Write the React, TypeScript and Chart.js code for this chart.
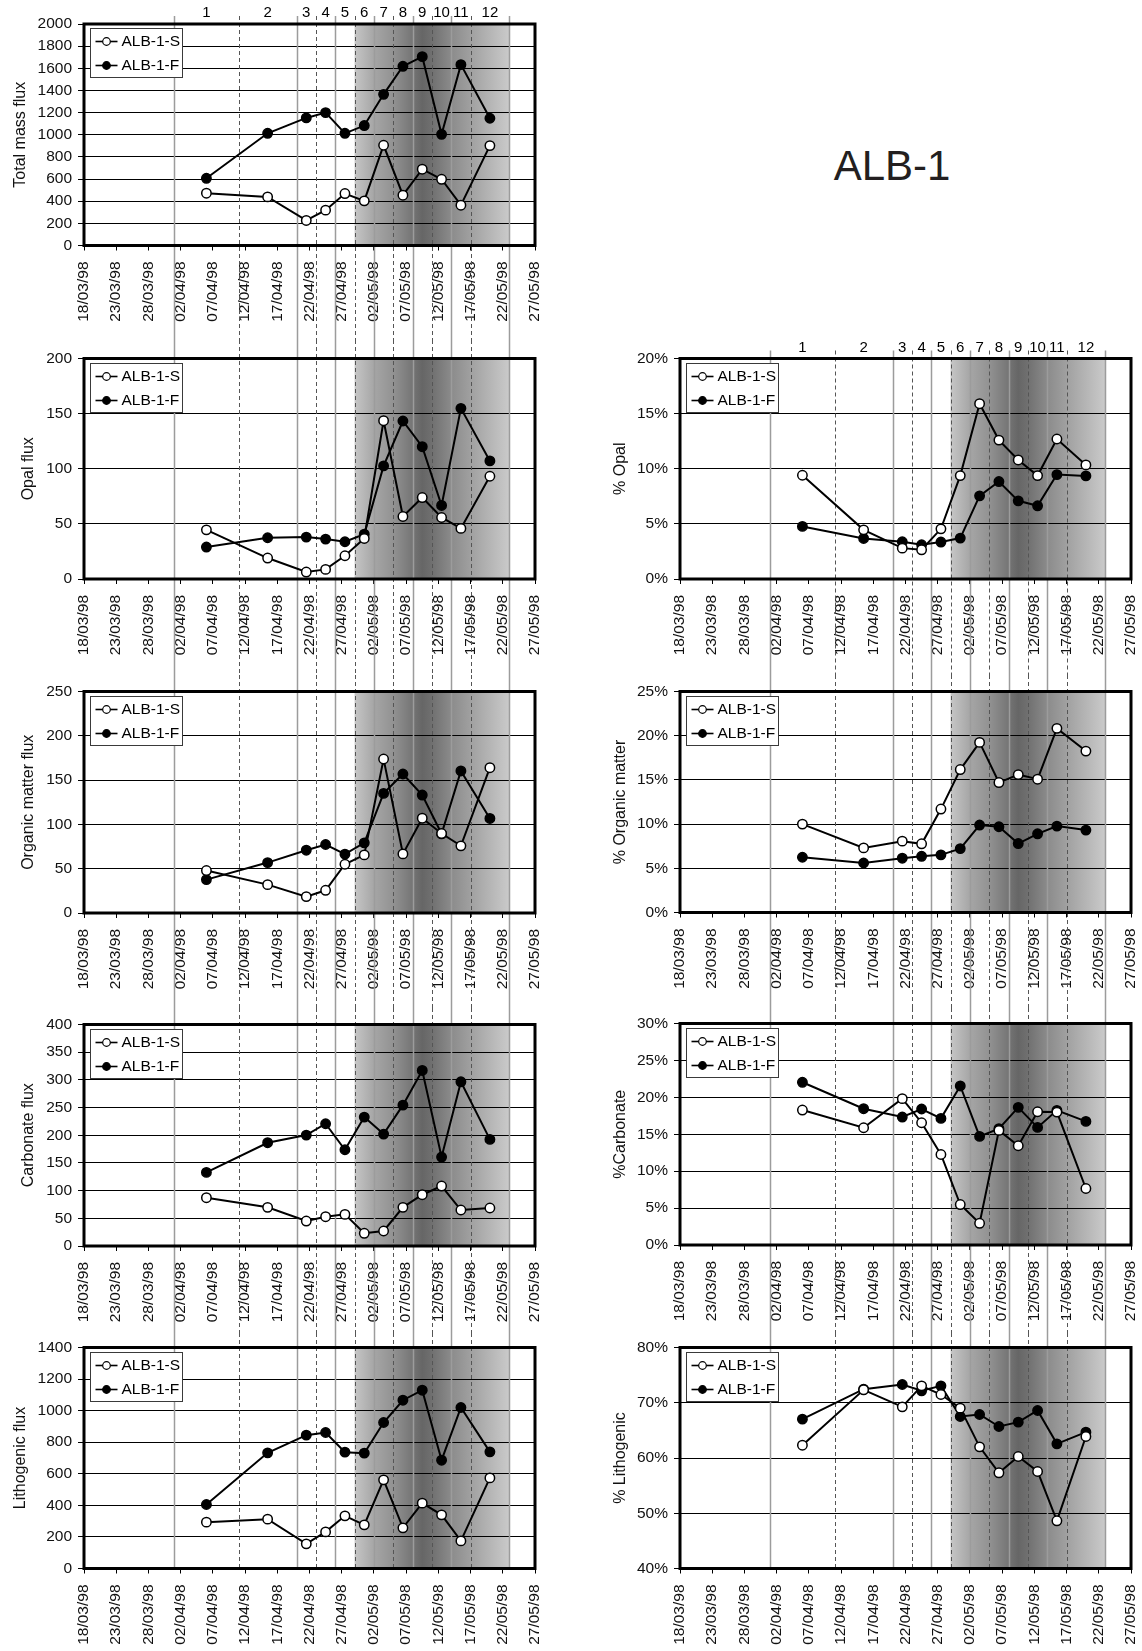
import React, { useEffect, useRef } from 'react';
import { Chart, registerables } from 'chart.js';

Chart.register(...registerables);

const FONT = '"Liberation Sans", Arial, Helvetica, sans-serif';
Chart.defaults.font.family = FONT;

// ---------- data ----------
const SERIES_NAMES = ['ALB-1-S', 'ALB-1-F'];
const CUP_NUMBERS = ['1', '2', '3', '4', '5', '6', '7', '8', '9', '10', '11', '12'];
// cup opening/closing limits, in days after 18/03/98
const CUP_BOUNDARY_DAYS = [14, 24, 33, 36, 39, 42, 45, 48, 51, 54, 57, 60, 66];
const CUP_BOUNDARY_DASHED = [false, true, false, true, false, true, false, true, false, true, false, true, false];
// sample mid-dates, in days after 18/03/98
const CUP_MID_DAYS = [19, 28.5, 34.5, 37.5, 40.5, 43.5, 46.5, 49.5, 52.5, 55.5, 58.5, 63];
const DATE_TICK_LABELS = [
  '18/03/98', '23/03/98', '28/03/98', '02/04/98', '07/04/98', '12/04/98', '17/04/98', '22/04/98',
  '27/04/98', '02/05/98', '07/05/98', '12/05/98', '17/05/98', '22/05/98', '27/05/98',
];
const BLOOM_START_DAY = 42;
const BLOOM_END_DAY = 66;

const TOTAL_MASS_S = [472, 439, 226, 319, 469, 403, 905, 454, 689, 598, 364, 902];
const TOTAL_MASS_F = [607, 1013, 1152, 1200, 1013, 1083, 1365, 1618, 1705, 1004, 1633, 1149];
const OPAL_FLUX_S = [44.6, 19, 6.3, 8.7, 21.1, 36.8, 143.6, 56.7, 73.9, 55.8, 45.9, 93.2];
const OPAL_FLUX_F = [29, 37.4, 38, 36.2, 33.8, 40.7, 102.6, 143.3, 120, 66.7, 154.8, 107.1];
const OPAL_PCT_S = [9.41, 4.46, 2.8, 2.65, 4.55, 9.38, 15.9, 12.6, 10.8, 9.38, 12.7, 10.35];
const OPAL_PCT_F = [4.77, 3.68, 3.38, 3.1, 3.35, 3.71, 7.54, 8.84, 7.09, 6.64, 9.47, 9.35];
const ORGANIC_FLUX_S = [47.9, 32, 18.5, 25.6, 55, 65.6, 173.8, 66.7, 107, 89.7, 75.8, 164];
const ORGANIC_FLUX_F = [37.7, 56.9, 70.9, 77.3, 66.4, 79.2, 135, 156.9, 133.1, 89.4, 160.3, 106.7];
const ORGANIC_PCT_S = [10.0, 7.31, 8.07, 7.77, 11.7, 16.17, 19.24, 14.7, 15.6, 15.08, 20.83, 18.26];
const ORGANIC_PCT_F = [6.25, 5.6, 6.14, 6.36, 6.52, 7.23, 9.89, 9.7, 7.8, 8.9, 9.77, 9.32];
const CARBONATE_FLUX_S = [87.2, 69.8, 45.1, 52.9, 57.1, 22.9, 27.1, 69.8, 92.6, 108.3, 65, 68.6];
const CARBONATE_FLUX_F = [132.9, 186.5, 200.3, 220.8, 173.8, 232.8, 202.1, 254.4, 317, 160.6, 296.5, 192.5];
const CARBONATE_PCT_S = [18.28, 15.88, 19.82, 16.56, 12.26, 5.48, 2.94, 15.52, 13.44, 18.05, 18.0, 7.65];
const CARBONATE_PCT_F = [22.04, 18.46, 17.33, 18.42, 17.15, 21.54, 14.71, 15.75, 18.64, 15.93, 18.24, 16.74];
const LITHOGENIC_FLUX_S = [293.5, 312.5, 156, 232, 333.6, 276.6, 561.7, 257.6, 413.9, 340, 175, 574];
const LITHOGENIC_FLUX_F = [405.4, 732.7, 844.6, 861.5, 737, 730.6, 924.8, 1066, 1129.6, 686, 1020, 739];
const LITHOGENIC_PCT_S = [62.32, 72.34, 69.26, 73.06, 71.49, 69.02, 62.02, 57.32, 60.27, 57.56, 48.63, 63.89];
const LITHOGENIC_PCT_F = [67.03, 72.46, 73.3, 72.16, 73.06, 67.51, 67.87, 65.7, 66.49, 68.6, 62.56, 64.68];

// ---------- layout ----------
const COLUMNS = [
  { canvasLeft: 0, canvasWidth: 560, plotLeft: 84, plotRight: 535 },
  { canvasLeft: 560, canvasWidth: 582, plotLeft: 680, plotRight: 1131 },
];

type PanelDef = {
  id: string; col: number; bandTop: number; bandBottom: number; plotTop: number; plotBottom: number;
  title: string; titleX: number; min: number; max: number; step: number; percent: boolean;
  s: number[]; f: number[]; isTop: boolean; isBottom: boolean;
};

const PANELS: PanelDef[] = [
  { id: 'tm', col: 0, bandTop: 0, bandBottom: 340, plotTop: 24, plotBottom: 245.5, title: 'Total mass flux', titleX: 21, min: 0, max: 2000, step: 200, percent: false, s: TOTAL_MASS_S, f: TOTAL_MASS_F, isTop: true, isBottom: false },
  { id: 'of', col: 0, bandTop: 340, bandBottom: 675, plotTop: 358.5, plotBottom: 579, title: 'Opal flux', titleX: 29, min: 0, max: 200, step: 50, percent: false, s: OPAL_FLUX_S, f: OPAL_FLUX_F, isTop: false, isBottom: false },
  { id: 'om', col: 0, bandTop: 675, bandBottom: 1008, plotTop: 691.5, plotBottom: 913, title: 'Organic matter flux', titleX: 29, min: 0, max: 250, step: 50, percent: false, s: ORGANIC_FLUX_S, f: ORGANIC_FLUX_F, isTop: false, isBottom: false },
  { id: 'cf', col: 0, bandTop: 1008, bandBottom: 1333, plotTop: 1024.5, plotBottom: 1246, title: 'Carbonate flux', titleX: 29, min: 0, max: 400, step: 50, percent: false, s: CARBONATE_FLUX_S, f: CARBONATE_FLUX_F, isTop: false, isBottom: false },
  { id: 'lf', col: 0, bandTop: 1333, bandBottom: 1651, plotTop: 1347.5, plotBottom: 1568.5, title: 'Lithogenic flux', titleX: 21, min: 0, max: 1400, step: 200, percent: false, s: LITHOGENIC_FLUX_S, f: LITHOGENIC_FLUX_F, isTop: false, isBottom: true },
  { id: 'op', col: 1, bandTop: 320, bandBottom: 675, plotTop: 358.5, plotBottom: 579, title: '% Opal', titleX: 621, min: 0, max: 20, step: 5, percent: true, s: OPAL_PCT_S, f: OPAL_PCT_F, isTop: true, isBottom: false },
  { id: 'mp', col: 1, bandTop: 675, bandBottom: 1008, plotTop: 691.5, plotBottom: 912.5, title: '% Organic matter', titleX: 621, min: 0, max: 25, step: 5, percent: true, s: ORGANIC_PCT_S, f: ORGANIC_PCT_F, isTop: false, isBottom: false },
  { id: 'cp', col: 1, bandTop: 1008, bandBottom: 1333, plotTop: 1023.5, plotBottom: 1245, title: '%Carbonate', titleX: 621, min: 0, max: 30, step: 5, percent: true, s: CARBONATE_PCT_S, f: CARBONATE_PCT_F, isTop: false, isBottom: false },
  { id: 'lp', col: 1, bandTop: 1333, bandBottom: 1651, plotTop: 1347.5, plotBottom: 1568.5, title: '% Lithogenic', titleX: 621, min: 40, max: 80, step: 10, percent: true, s: LITHOGENIC_PCT_S, f: LITHOGENIC_PCT_F, isTop: false, isBottom: true },
];

const SHADE_STOPS: [number, string][] = [
  [42, '#c6c6c6'], [45, '#a6a6a6'], [48, '#929292'], [50.5, '#7a7a7a'], [52.5, '#666666'],
  [54, '#707070'], [57, '#8b8b8b'], [60, '#a0a0a0'], [66, '#cacaca'],
];

function Panel({ def }: { def: PanelDef }) {
  const ref = useRef<HTMLCanvasElement | null>(null);
  const col = COLUMNS[def.col];
  const w = col.canvasWidth;
  const h = def.bandBottom - def.bandTop;

  useEffect(() => {
    const canvas = ref.current;
    if (!canvas) return;
    const padTop = def.plotTop - def.bandTop;
    const xH = def.bandBottom - def.plotBottom;
    const yW = col.plotLeft - col.canvasLeft;
    const padRight = col.canvasLeft + col.canvasWidth - col.plotRight;
    const titleSize = 16;

    const decor = {
      id: 'decor',
      beforeDraw(chart: any) {
        const { ctx, chartArea: a, scales } = chart;
        const x = scales.x;
        const x0 = x.getPixelForValue(BLOOM_START_DAY);
        const x1 = x.getPixelForValue(BLOOM_END_DAY);
        const g = ctx.createLinearGradient(x0, 0, x1, 0);
        SHADE_STOPS.forEach(([d, c]) => g.addColorStop((d - BLOOM_START_DAY) / (BLOOM_END_DAY - BLOOM_START_DAY), c));
        ctx.save();
        ctx.fillStyle = g;
        ctx.fillRect(x0, a.top, x1 - x0, a.bottom - a.top);
        ctx.restore();
      },
      beforeDatasetsDraw(chart: any) {
        const { ctx, chartArea: a, scales } = chart;
        const x = scales.x;
        const y0 = def.isTop ? a.top - 8 : 0;
        const y1 = def.isBottom ? a.bottom : chart.height;
        ctx.save();
        CUP_BOUNDARY_DAYS.forEach((d, i) => {
          const px = Math.round(x.getPixelForValue(d)) + 0.5;
          ctx.beginPath();
          if (CUP_BOUNDARY_DASHED[i]) {
            ctx.strokeStyle = '#555555';
            ctx.lineWidth = 1;
            ctx.setLineDash([4, 3]);
          } else {
            ctx.strokeStyle = '#9c9c9c';
            ctx.lineWidth = 1.5;
            ctx.setLineDash([]);
          }
          ctx.moveTo(px, y0);
          ctx.lineTo(px, y1);
          ctx.stroke();
        });
        ctx.restore();
      },
      afterDraw(chart: any) {
        const { ctx, chartArea: a, scales } = chart;
        const x = scales.x;
        ctx.save();
        // frame
        ctx.strokeStyle = '#000';
        ctx.lineWidth = 3;
        ctx.setLineDash([]);
        ctx.strokeRect(a.left, a.top, a.right - a.left, a.bottom - a.top);
        // legend
        const bx = Math.round(a.left + 6) + 0.5;
        const by = Math.round(a.top + 4) + 0.5;
        const bw = 92;
        const bh = 49;
        ctx.fillStyle = '#fff';
        ctx.fillRect(bx, by, bw, bh);
        ctx.strokeStyle = '#3a3a3a';
        ctx.lineWidth = 1;
        ctx.strokeRect(bx, by, bw, bh);
        chart.data.datasets.forEach((ds: any, i: number) => {
          const cy = by + 13 + i * 24;
          ctx.strokeStyle = '#000';
          ctx.lineWidth = 1.6;
          ctx.beginPath();
          ctx.moveTo(bx + 5, cy);
          ctx.lineTo(bx + 27, cy);
          ctx.stroke();
          ctx.beginPath();
          ctx.arc(bx + 16, cy, 3.8, 0, Math.PI * 2);
          ctx.fillStyle = ds.pointBackgroundColor;
          ctx.fill();
          ctx.lineWidth = 1.2;
          ctx.stroke();
          ctx.fillStyle = '#000';
          ctx.font = `15.5px ${FONT}`;
          ctx.textAlign = 'left';
          ctx.textBaseline = 'middle';
          ctx.fillText(ds.label, bx + 31, cy + 0.5);
        });
        // cup numbers
        if (def.isTop) {
          ctx.fillStyle = '#000';
          ctx.font = `15px ${FONT}`;
          ctx.textAlign = 'center';
          ctx.textBaseline = 'middle';
          CUP_NUMBERS.forEach((n, i) => {
            const mid = (CUP_BOUNDARY_DAYS[i] + CUP_BOUNDARY_DAYS[i + 1]) / 2;
            ctx.fillText(n, x.getPixelForValue(mid), a.top - 11);
          });
        }
        ctx.restore();
      },
    };

    const mk = (vals: number[]) => CUP_MID_DAYS.map((d, i) => ({ x: d, y: vals[i] }));

    const chart = new Chart(canvas, {
      type: 'line',
      data: {
        datasets: [
          {
            label: SERIES_NAMES[0], data: mk(def.s), borderColor: '#000', borderWidth: 2,
            pointRadius: 4.7, pointBorderWidth: 1.5, pointBackgroundColor: '#fff', pointBorderColor: '#000',
            fill: false, tension: 0,
          },
          {
            label: SERIES_NAMES[1], data: mk(def.f), borderColor: '#000', borderWidth: 2,
            pointRadius: 4.7, pointBorderWidth: 1.5, pointBackgroundColor: '#000', pointBorderColor: '#000',
            fill: false, tension: 0,
          },
        ],
      },
      options: {
        animation: false,
        responsive: false,
        devicePixelRatio: 1,
        events: [],
        layout: { padding: { top: padTop, right: padRight, left: 0, bottom: 0 } },
        plugins: { legend: { display: false }, tooltip: { enabled: false } },
        scales: {
          x: {
            type: 'linear', min: 0, max: 70, position: 'bottom',
            ticks: {
              stepSize: 5, autoSkip: false, maxRotation: 90, minRotation: 90, padding: 11,
              color: '#111', font: { family: FONT, size: 15.5 },
              callback: (v: any) => DATE_TICK_LABELS[Math.round(Number(v) / 5)] ?? '',
            },
            grid: { drawOnChartArea: false, drawTicks: true, tickLength: 5, color: '#000', lineWidth: 1 },
            border: { display: false },
            afterFit: (s: any) => { s.height = xH; s.paddingLeft = 0; s.paddingRight = 0; },
          },
          y: {
            type: 'linear', min: def.min, max: def.max, position: 'left',
            ticks: {
              stepSize: def.step, color: '#111', padding: 6, font: { family: FONT, size: 15.5 },
              callback: (v: any) => (def.percent ? `${v}%` : `${v}`),
            },
            grid: { color: '#000', lineWidth: 1, tickLength: 6, drawTicks: true },
            border: { display: false },
            title: {
              display: true, text: def.title, color: '#111', font: { family: FONT, size: titleSize },
              padding: { top: def.titleX - col.canvasLeft - titleSize * 0.6, bottom: 0 },
            },
            afterFit: (s: any) => { s.width = yW; s.paddingTop = 0; s.paddingBottom = 0; },
          },
        },
      } as any,
      plugins: [decor],
    });
    return () => chart.destroy();
  }, []);

  return (
    <canvas
      ref={ref}
      width={w}
      height={h}
      style={{ position: 'absolute', left: col.canvasLeft, top: def.bandTop, width: w, height: h, display: 'block' }}
    />
  );
}

export default function App() {
  return (
    <div style={{ position: 'absolute', left: 0, top: 0, width: 1142, height: 1651, background: '#fff', overflow: 'hidden' }}>
      <div
        style={{
          position: 'absolute', left: 892, top: 166, transform: 'translate(-50%, -50%)',
          fontFamily: FONT, fontSize: 42, color: '#231f20', lineHeight: 1, whiteSpace: 'nowrap',
        }}
      >
        ALB-1
      </div>
      {PANELS.map((p) => (
        <Panel key={p.id} def={p} />
      ))}
    </div>
  );
}
